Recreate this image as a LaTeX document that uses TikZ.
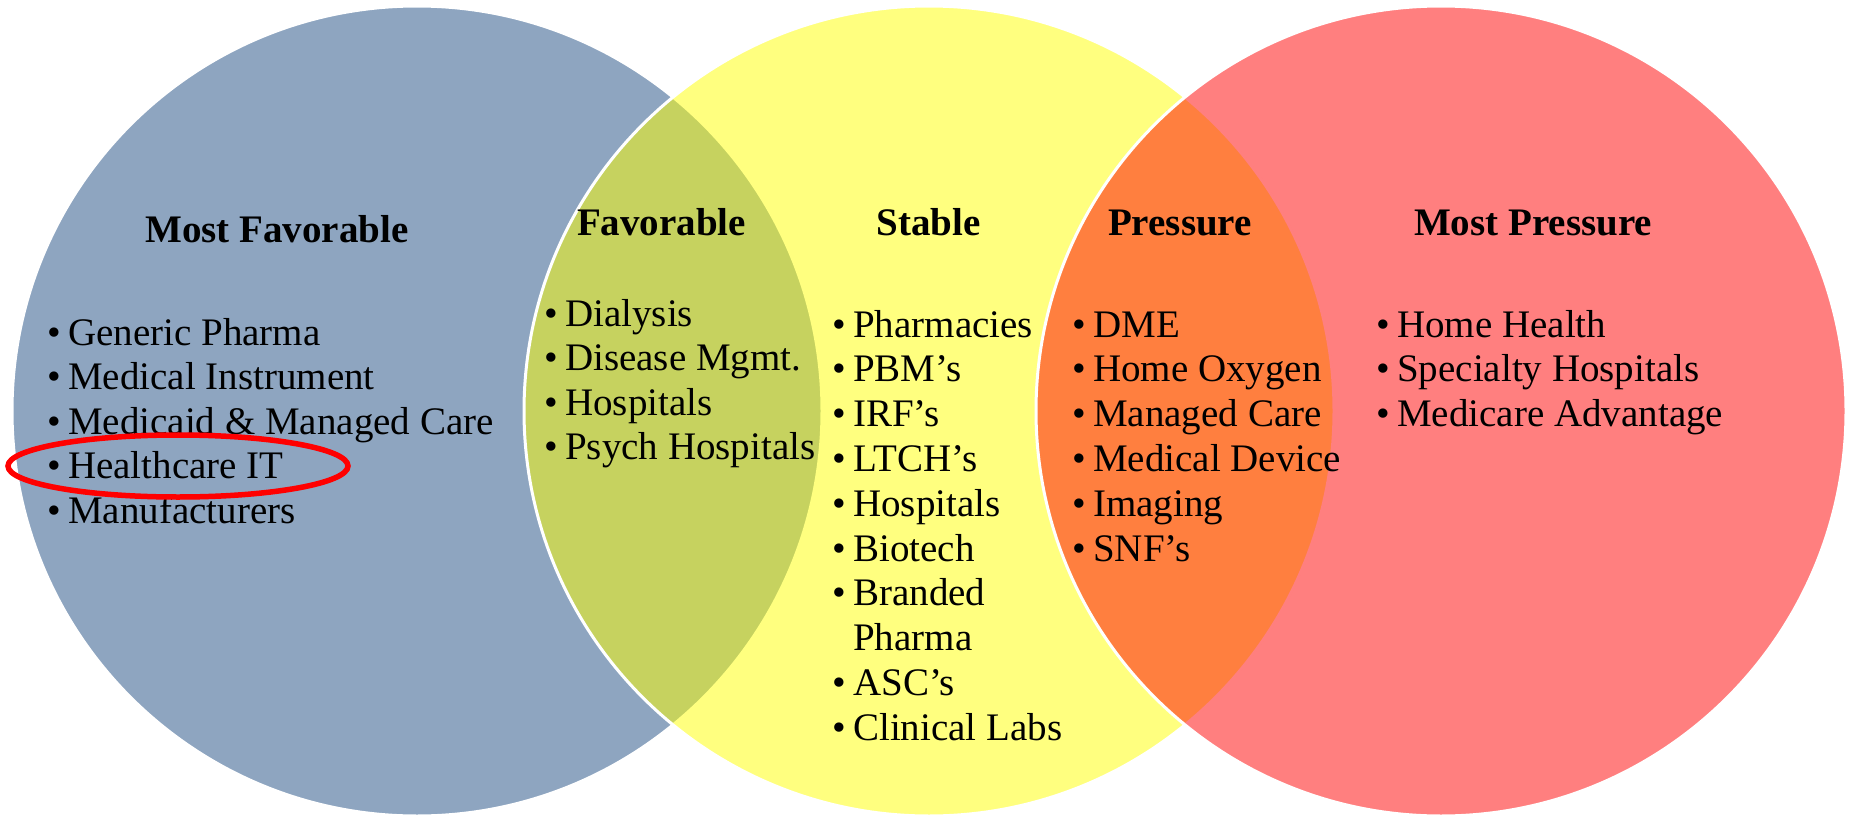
\documentclass[tikz,border=0pt]{standalone}
\usepackage{fontspec}
\setmainfont{Liberation Serif}
\definecolor{cblue}{RGB}{29,75,129}
\definecolor{cyel}{RGB}{255,255,0}
\definecolor{cred}{RGB}{255,0,0}
\newcommand{\itemfont}{\fontsize{39}{44}\selectfont}
\newcommand{\bl}{\llap{\makebox[21pt][l]{•}}}
\tikzset{
  venn/.style={fill opacity=0.5, draw=white, draw opacity=1, line width=3pt},
  item/.style={anchor=base west, inner sep=0pt, font=\itemfont},
  head/.style={anchor=base, inner sep=0pt, font=\itemfont\bfseries},
}
\begin{document}
\begin{tikzpicture}[x=1pt,y=-1pt]
\useasboundingbox (0,0) rectangle (1856,816);
% circles
\path[venn, fill=cblue] (417,411) circle [radius=405];
\path[venn, fill=cyel] (929,411) circle [radius=405];
\path[venn, fill=cred] (1441,411) circle [radius=405];
% headings
\node[head] (hMF) at (277,242) {Most Favorable};
\node[head] (hF) at (661.5,235) {Favorable};
\node[head] (hS) at (928.5,235) {Stable};
\node[head] (hP) at (1180,235) {Pressure};
\node[head] (hMP) at (1533,235) {Most Pressure};
% lists
\foreach \t [count=\i] in {Generic Pharma, Medical Instrument, Medicaid \& Managed Care, Healthcare IT, Manufacturers}
  \node[item] (mf\i) at (68,{345+44.5*(\i-1)}) {\bl\t};
\foreach \t [count=\i] in {Dialysis, Disease Mgmt., Hospitals, Psych Hospitals}
  \node[item] (fv\i) at (565,{326+44.5*(\i-1)}) {\bl\t};
\foreach \t [count=\i] in {Pharmacies, PBM’s, IRF’s, LTCH’s, Hospitals, Biotech, Branded}
  \node[item] (st\i) at (853,{337+44.8*(\i-1)}) {\bl\t};
\node[item] (st8) at (853,650.6) {Pharma};
\node[item] (st9) at (853,695.4) {\bl ASC’s};
\node[item] (st10) at (853,740.2) {\bl Clinical Labs};
\foreach \t [count=\i] in {DME, Home Oxygen, Managed Care, Medical Device, Imaging, SNF’s}
  \node[item] (pr\i) at (1093,{337+44.8*(\i-1)}) {\bl\t};
\foreach \t [count=\i] in {Home Health, Specialty Hospitals, Medicare Advantage}
  \node[item] (mp\i) at (1397,{337+44.8*(\i-1)}) {\bl\t};
% highlight
\draw[red, line width=5.5pt] (178,466) ellipse [x radius=170, y radius=31];
\end{tikzpicture}
\end{document}
